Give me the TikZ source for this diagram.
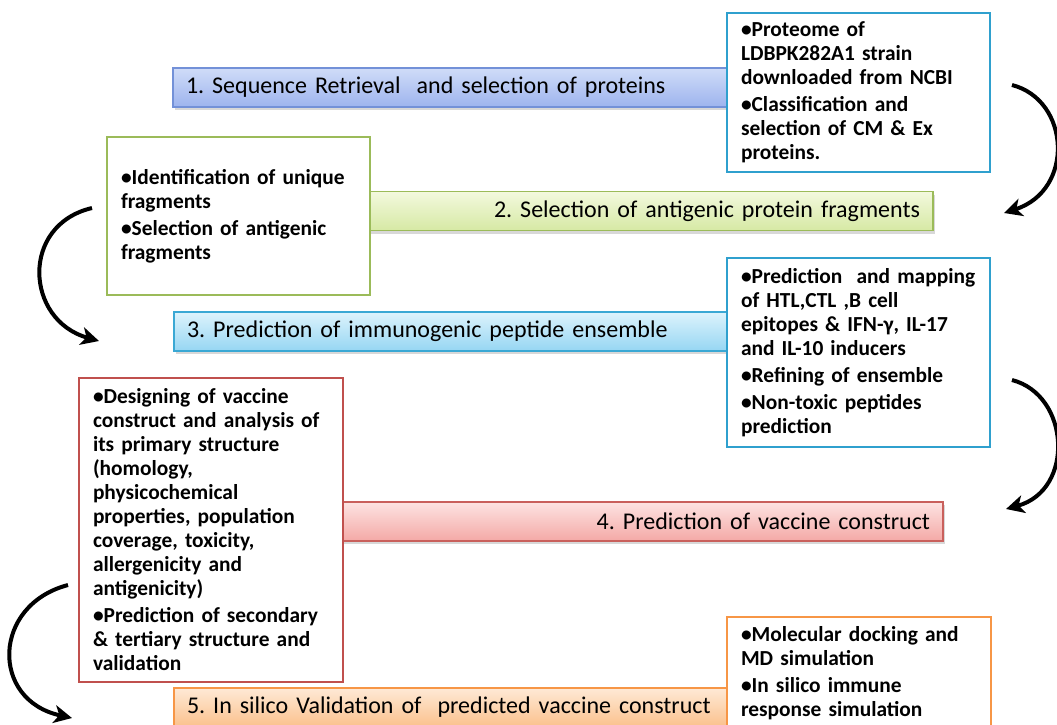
\documentclass[tikz,border=0pt]{standalone}
\usepackage{fontspec}
\setmainfont{Carlito}
\usetikzlibrary{arrows.meta,shadows}
\definecolor{bluetop}{HTML}{D0DCF8}
\definecolor{bluebot}{HTML}{9DB4EE}
\definecolor{blueedge}{HTML}{7391D8}
\definecolor{greentop}{HTML}{F3F9DE}
\definecolor{greenbot}{HTML}{D6E9A4}
\definecolor{greenedge}{HTML}{9BBB59}
\definecolor{cyantop}{HTML}{DDF3FC}
\definecolor{cyanbot}{HTML}{96D6F3}
\definecolor{cyanedge}{HTML}{3AA8D4}
\definecolor{redtop}{HTML}{FDE3E2}
\definecolor{redbot}{HTML}{F4A9A6}
\definecolor{rededge}{HTML}{C9605C}
\definecolor{orangetop}{HTML}{FEE9D6}
\definecolor{orangebot}{HTML}{FBC18C}
\definecolor{orangeedge}{HTML}{F79646}
\definecolor{detailcyan}{HTML}{2FA0CE}
\definecolor{detailred}{HTML}{C0504D}
\begin{document}
\begin{tikzpicture}[x=1pt,y=-1pt,
  bar/.style={draw, line width=1.2pt, inner xsep=13pt, inner ysep=0pt,
    minimum height=39pt, font=\fontsize{24}{28}\selectfont\frenchspacing,
    drop shadow={opacity=0.3, shadow xshift=1.5pt, shadow yshift=-3pt}},
  detail/.style={draw, fill=white, line width=2.8pt, inner xsep=14pt, inner ysep=0pt,
    align=left, font=\fontsize{21.4}{24}\selectfont\bfseries\frenchspacing},
  flowarrow/.style={line width=4pt, -{Stealth[length=18pt,width=18pt,inset=5pt]}}]
\useasboundingbox (0,0) rectangle (1057,724);
\clip (0,0) rectangle (1057,724);
\fill[white] (0,0) rectangle (1057,724);
% step bars
\node[bar, top color=bluetop, bottom color=bluebot, draw=blueedge,
  minimum width=569pt, text width=543pt, align=left] (s1) at (457.5,87.5)
  {1. Sequence Retrieval\ \ and selection of proteins};
\node[bar, top color=greentop, bottom color=greenbot, draw=greenedge,
  minimum width=573pt, text width=547pt, align=right] (s2) at (646.5,211)
  {2. Selection of antigenic protein fragments};
\node[bar, top color=cyantop, bottom color=cyanbot, draw=cyanedge,
  minimum width=568pt, text width=542pt, align=left] (s3) at (458,331.5)
  {3. Prediction of immunogenic peptide ensemble};
\node[bar, top color=redtop, bottom color=redbot, draw=rededge,
  minimum width=613pt, text width=587pt, align=right] (s4) at (636.5,521.5)
  {4. Prediction of vaccine construct};
\node[bar, top color=orangetop, bottom color=orangebot, draw=orangeedge,
  minimum width=568pt, text width=542pt, align=left] (s5) at (458,707.5)
  {5. In silico Validation of\ \ predicted vaccine construct};
% detail boxes
\node[detail, draw=detailcyan, minimum width=263pt, minimum height=159pt, text width=235pt] (d1) at (858.5,92.5)
  {\textbullet Proteome of\\ LDBPK282A1 strain\\ downloaded from NCBI\\[3pt]
   \textbullet Classification and\\ selection of CM \& Ex\\ proteins.};
\node[detail, draw=greenedge, minimum width=263pt, minimum height=158pt, text width=235pt] (d2) at (238.5,216)
  {\textbullet Identification of unique\\ fragments\\[3pt]
   \textbullet Selection of antigenic\\ fragments};
\node[detail, draw=detailcyan, minimum width=263pt, minimum height=189pt, text width=235pt] (d3) at (858.5,352.5)
  {\textbullet Prediction\ \ and mapping\\ of HTL,CTL ,B cell\\ epitopes \& IFN-γ, IL-17\\ and IL-10 inducers\\[3pt]
   \textbullet Refining of ensemble\\[3pt]
   \textbullet Non-toxic peptides\\ prediction};
\node[detail, draw=detailred, minimum width=264pt, minimum height=304pt, text width=236pt] (d4) at (211,530)
  {\textbullet Designing of vaccine\\ construct and analysis of\\ its primary structure\\ (homology,\\ physicochemical\\ properties, population\\ coverage, toxicity,\\ allergenicity and\\ antigenicity)\\[3pt]
   \textbullet Prediction of secondary\\ \& tertiary structure and\\ validation};
\node[detail, draw=orangeedge, minimum width=264pt, minimum height=113pt, text width=236pt] (d5) at (859,673.5)
  {\textbullet Molecular docking and\\ MD simulation\\[3pt]
   \textbullet In silico immune\\ response simulation};
% curved arrows
\coordinate (a1s) at (1012,85);
\coordinate (a1e) at (1004,213);
\coordinate (a2s) at (92,208);
\coordinate (a2e) at (99,341);
\coordinate (a3s) at (1012,380);
\coordinate (a3e) at (1006,509);
\coordinate (a4s) at (68,585);
\coordinate (a4e) at (72,718);
\draw[flowarrow] (a1s) .. controls (1070,100) and (1075,190) .. (a1e);
\draw[flowarrow] (a2s) .. controls (20,225) and (25,320) .. (a2e);
\draw[flowarrow] (a3s) .. controls (1070,395) and (1075,490) .. (a3e);
\draw[flowarrow] (a4s) .. controls (-8,605) and (-10,700) .. (a4e);
\end{tikzpicture}
\end{document}
